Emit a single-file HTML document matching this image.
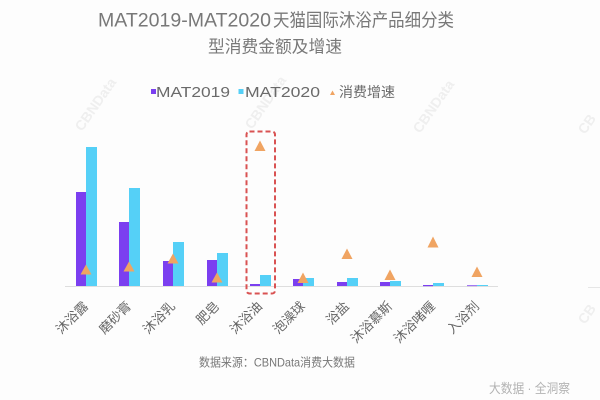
<!DOCTYPE html>
<html>
<head>
<meta charset="utf-8">
<style>
html,body{margin:0;padding:0;background:#fdfdfd;}
svg{display:block;}
text{font-family:"Liberation Sans","Noto Sans CJK SC",sans-serif;}
</style>
</head>
<body>
<svg width="600" height="400" viewBox="0 0 600 400" xmlns="http://www.w3.org/2000/svg">
<rect x="0" y="0" width="600" height="400" fill="#fdfdfd"/>

<!-- faint watermarks -->
<g fill="#efefef" font-size="14" font-weight="bold">
  <text transform="translate(82,132) rotate(-55)">CBNData</text>
  <text transform="translate(252,130) rotate(-55)">CBNData</text>
  <text transform="translate(420,134) rotate(-55)">CBNData</text>
  <text transform="translate(585,135) rotate(-55)">CB</text>
  <text transform="translate(585,325) rotate(-55)">CB</text>
</g>

<!-- Title -->
<g fill="#787878">
  <text x="98" y="26.5" font-size="19" textLength="173" lengthAdjust="spacingAndGlyphs">MAT2019-MAT2020</text>
  <text x="273" y="26.5" font-size="18" textLength="181" lengthAdjust="spacingAndGlyphs">天猫国际沐浴产品细分类</text>
  <text x="208" y="52.5" font-size="17" textLength="134" lengthAdjust="spacingAndGlyphs">型消费金额及增速</text>
</g>

<!-- Legend -->
<rect x="151" y="89" width="5" height="5" fill="#7b3ff0"/>
<text x="156" y="97" font-size="14.5" fill="#6a6a6a" textLength="74" lengthAdjust="spacingAndGlyphs">MAT2019</text>
<rect x="238.5" y="89" width="5" height="5" fill="#55d0f7"/>
<text x="245" y="97" font-size="14.5" fill="#6a6a6a" textLength="75" lengthAdjust="spacingAndGlyphs">MAT2020</text>
<polygon points="332.5,90.5 330,95 335,95" fill="#f0a462"/>
<text x="339" y="97" font-size="14" fill="#6a6a6a" textLength="56" lengthAdjust="spacingAndGlyphs">消费增速</text>

<!-- baseline -->
<line x1="65" y1="286.5" x2="498" y2="286.5" stroke="#dedede" stroke-width="1"/>
<line x1="588" y1="287.5" x2="600" y2="287.5" stroke="#e6e6e6" stroke-width="1"/>

<!-- Bars: purple (MAT2019) cx-10..cx ; cyan (MAT2020) cx..cx+11 -->
<g fill="#7b3ff0">
  <rect x="76" y="192" width="10" height="94"/>
  <rect x="119" y="222" width="10" height="64"/>
  <rect x="163" y="261" width="10" height="25"/>
  <rect x="207" y="260" width="10" height="26"/>
  <rect x="250" y="284" width="10" height="2"/>
  <rect x="293" y="279" width="10" height="7"/>
  <rect x="337" y="282" width="10" height="4"/>
  <rect x="380" y="282" width="10" height="4"/>
  <rect x="423" y="285" width="10" height="1.2"/>
  <rect x="467" y="285.3" width="10" height="0.8"/>
</g>
<g fill="#55d0f7">
  <rect x="86" y="147" width="11" height="139"/>
  <rect x="129" y="188" width="11" height="98"/>
  <rect x="173" y="242" width="11" height="44"/>
  <rect x="217" y="253" width="11" height="33"/>
  <rect x="260" y="275" width="11" height="11"/>
  <rect x="303" y="278" width="11" height="8"/>
  <rect x="347" y="278" width="11" height="8"/>
  <rect x="390" y="281" width="11" height="5"/>
  <rect x="433" y="283" width="11" height="3"/>
  <rect x="477" y="285" width="11" height="1"/>
</g>

<!-- Growth triangles -->
<g fill="#f0a462">
  <polygon points="86,264.5 80.5,274.5 91.5,274.5"/>
  <polygon points="129,261.5 123.5,271.5 134.5,271.5"/>
  <polygon points="173,253.5 167.5,263.5 178.5,263.5"/>
  <polygon points="217,272.5 211.5,282.5 222.5,282.5"/>
  <polygon points="260,140.5 254.5,151 265.5,151"/>
  <polygon points="303,272.5 297.5,283 308.5,283"/>
  <polygon points="347,248.5 341.5,259 352.5,259"/>
  <polygon points="390,269.5 384.5,280 395.5,280"/>
  <polygon points="433,236.5 427.5,247.5 438.5,247.5"/>
  <polygon points="477,266.5 471.5,277 482.5,277"/>
</g>

<!-- Highlight dashed box -->
<rect x="246.5" y="131.5" width="28.5" height="162" rx="3" ry="3" fill="none" stroke="#d95252" stroke-width="2" stroke-dasharray="5,3"/>

<!-- Category labels -->
<g fill="#666" font-size="13" text-anchor="end">
  <text transform="translate(89,307) rotate(-45)">沐浴露</text>
  <text transform="translate(132,307) rotate(-45)">磨砂膏</text>
  <text transform="translate(176,307) rotate(-45)">沐浴乳</text>
  <text transform="translate(220,307) rotate(-45)">肥皂</text>
  <text transform="translate(263,307) rotate(-45)">沐浴油</text>
  <text transform="translate(306,307) rotate(-45)">泡澡球</text>
  <text transform="translate(350,307) rotate(-45)">浴盐</text>
  <text transform="translate(393,307) rotate(-45)">沐浴慕斯</text>
  <text transform="translate(436,307) rotate(-45)">沐浴啫喱</text>
  <text transform="translate(480,307) rotate(-45)">入浴剂</text>
</g>

<!-- Source -->
<text x="199" y="366.5" font-size="12" fill="#777" textLength="156" lengthAdjust="spacingAndGlyphs">数据来源：CBNData消费大数据</text>

<!-- bottom right -->
<text x="489" y="393" font-size="13" fill="#b3b3b3" textLength="81" lengthAdjust="spacingAndGlyphs">大数据 · 全洞察</text>
</svg>
</body>
</html>
